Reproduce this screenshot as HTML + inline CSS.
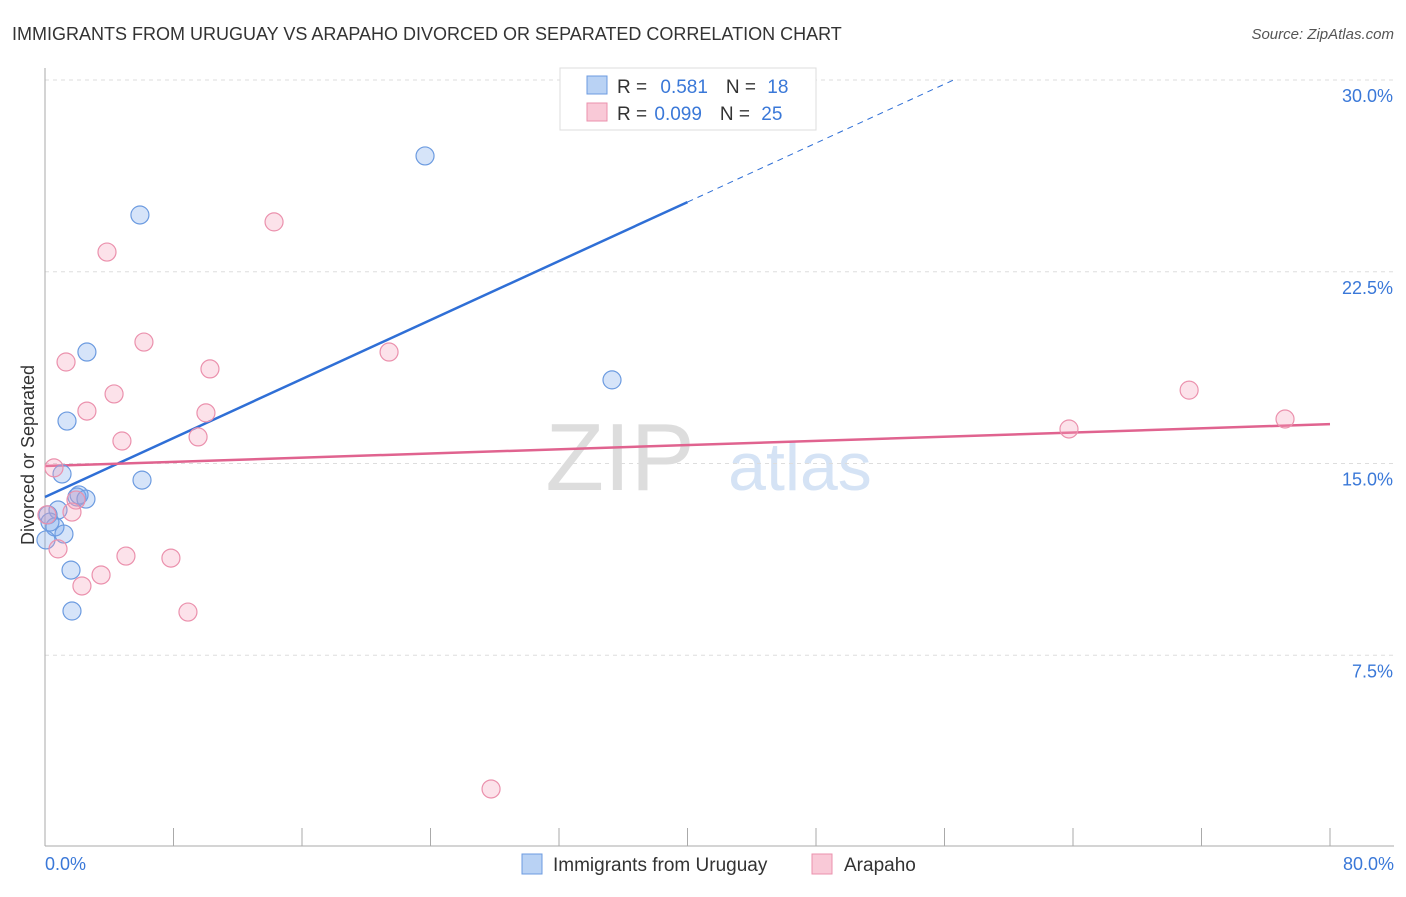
<!DOCTYPE html>
<html><head><meta charset="utf-8"><style>
body{margin:0;background:#fff;font-family:"Liberation Sans",sans-serif;}
svg text{font-family:"Liberation Sans",sans-serif;}
</style></head><body>
<svg width="1406" height="892" id="chart">
<text x="12" y="40" font-size="18" fill="#333">IMMIGRANTS FROM URUGUAY VS ARAPAHO DIVORCED OR SEPARATED CORRELATION CHART</text>
<text x="1394" y="39" font-size="15" fill="#555" font-style="italic" text-anchor="end">Source: ZipAtlas.com</text>
<text x="620" y="490" font-size="96" fill="#ddd" font-family="Liberation Serif" text-anchor="middle">ZIP</text>
<text x="800" y="490" font-size="68" fill="#d5e3f5" text-anchor="middle">atlas</text>
<text transform="translate(34,455) rotate(-90)" font-size="18" fill="#333" text-anchor="middle">Divorced or Separated</text>
<g id="grid"></g><g id="axes"></g><g id="lines"></g><g id="pts"></g>
<g>
<rect x="560" y="68" width="256" height="62" fill="#fff" stroke="#ddd"/>
<rect x="587" y="76" width="20" height="18" fill="#b9d2f4" stroke="#6c9be0"/>
<rect x="587" y="103" width="20" height="18" fill="#f9c9d7" stroke="#eb91ad"/>
<text x="617" y="93" font-size="19" fill="#333">R = <tspan fill="#3a78d8" dx="8">0.581</tspan><tspan dx="18" fill="#333">N = </tspan><tspan fill="#3a78d8" dx="6">18</tspan></text>
<text x="617" y="120" font-size="19" fill="#333">R = <tspan fill="#3a78d8" dx="2">0.099</tspan><tspan dx="18" fill="#333">N = </tspan><tspan fill="#3a78d8" dx="6">25</tspan></text>
</g>
<g>
<rect x="522" y="854" width="20" height="20" fill="#b9d2f4" stroke="#6c9be0"/>
<text x="553" y="871" font-size="19" fill="#333">Immigrants from Uruguay</text>
<rect x="812" y="854" width="20" height="20" fill="#f9c9d7" stroke="#eb91ad"/>
<text x="844" y="871" font-size="19" fill="#333">Arapaho</text>
</g>
</svg>
<script>
const yTicks=[7.5,15,22.5,30];
const yTickLabels=["7.5%","15.0%","22.5%","30.0%"];
const xTickLabels=["0.0%","80.0%"];
const blueX=[23.66,5.91,2.61,35.30,1.37,1.06,6.04,1.99,2.12,2.55,0.81,0.19,0.62,1.18,1.62,1.68,0.06,0.31];
const blueY=[27.03,24.72,19.36,18.27,16.66,14.59,14.35,13.69,13.77,13.61,13.18,12.99,12.52,12.24,10.83,9.23,12.01,12.71];
const pinkX=[3.86,14.26,6.16,1.31,10.27,21.42,4.30,2.61,10.02,4.79,9.53,0.56,1.93,1.68,0.81,5.04,7.84,3.49,2.30,8.90,27.77,63.75,71.23,77.20,0.12];
const pinkY=[23.27,24.45,19.75,18.97,18.70,19.36,17.72,17.05,16.98,15.88,16.04,14.83,13.57,13.10,11.66,11.38,11.30,10.64,10.21,9.19,2.27,16.35,17.87,16.74,12.99];
const blueLine=[13.69,36.76];
const pinkLine=[14.9,16.54];
const NS="http://www.w3.org/2000/svg";
const sx=v=>45+v*1285/80, sy=v=>847-v*767/30;
function mk(tag,attrs,parent){const e=document.createElementNS(NS,tag);for(const k in attrs)e.setAttribute(k,attrs[k]);document.getElementById(parent).appendChild(e);return e;}
yTicks.forEach((t,i)=>{
 const g=mk('line',{x1:45,x2:1394,y1:sy(t),y2:sy(t),stroke:'#ddd','stroke-dasharray':'4,4'},'grid');
 
 
 const l=mk('text',{x:1393,y:sy(t)+22,'font-size':18,fill:'#3a78d8','text-anchor':'end'},'grid');
 l.textContent=yTickLabels[i];
 
 
});
mk('line',{x1:45,x2:45,y1:68,y2:846,stroke:'#aaa'},'axes');
mk('line',{x1:45,x2:1394,y1:846,y2:846,stroke:'#aaa'},'axes');
for(let i=1;i<=10;i++){const t=mk('line',{x1:sx(i*8),x2:sx(i*8),y1:828,y2:846,stroke:'#aaa'},'axes');
 
 }
[[0,'start',45],[80,'end',1394]].forEach((d,i)=>{const t=mk('text',{x:d[2],y:870,'font-size':18,fill:'#3a78d8','text-anchor':d[1]},'axes');t.textContent=xTickLabels[i];
 
 });
// blue trend: solid to x=40, dashed beyond
const bY=x=>blueLine[0]+(blueLine[1]-blueLine[0])*x/80;
const bl=mk('line',{x1:sx(0),y1:sy(bY(0)),x2:sx(40),y2:sy(bY(40)),stroke:'#2f6fd6','stroke-width':2.5},'lines');


const xEnd=(30-blueLine[0])/(blueLine[1]-blueLine[0])*80;
const bd=mk('line',{x1:sx(40),y1:sy(bY(40)),x2:sx(xEnd),y2:sy(30),stroke:'#2f6fd6','stroke-width':1,'stroke-dasharray':'6,5'},'lines');


const pl=mk('line',{x1:sx(0),y1:sy(pinkLine[0]),x2:sx(80),y2:sy(pinkLine[1]),stroke:'#e0638f','stroke-width':2.5},'lines');


blueX.forEach((x,i)=>{const c=mk('circle',{cx:sx(x),cy:sy(blueY[i]),r:9,fill:'rgba(120,165,235,0.3)',stroke:'#6c9be0','stroke-width':1.2},'pts');
 
 });
pinkX.forEach((x,i)=>{const c=mk('circle',{cx:sx(x),cy:sy(pinkY[i]),r:9,fill:'rgba(245,160,185,0.3)',stroke:'#eb91ad','stroke-width':1.2},'pts');
 
 });
</script>
</body></html>
